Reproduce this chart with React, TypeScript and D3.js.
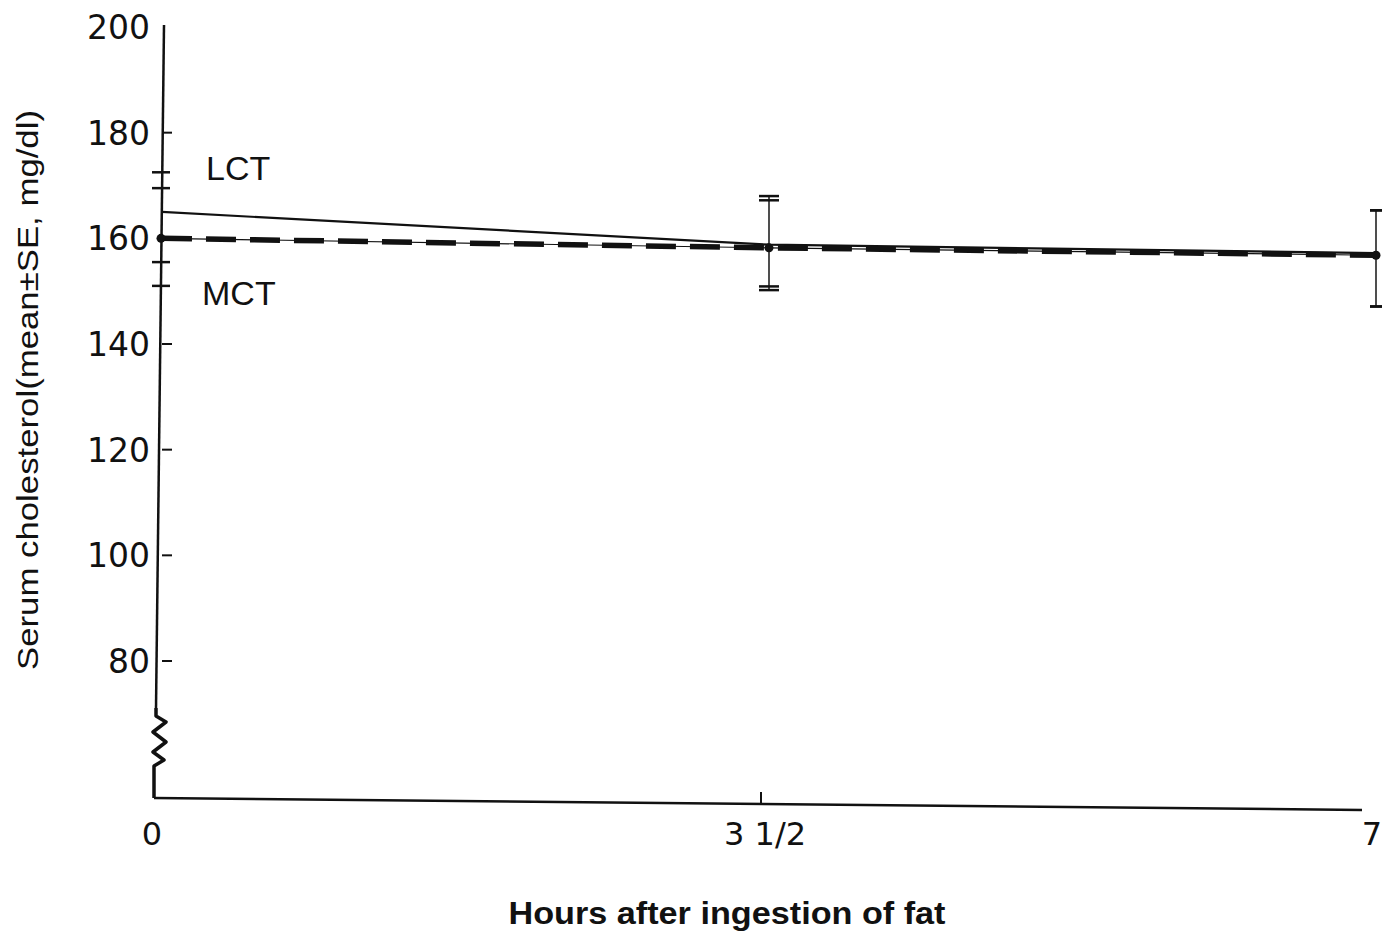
import React from "react"
import { scaleLinear, line } from "d3"

const width = 1386
const height = 935

// hours after ingestion
const hours = [0, 3.5, 7]
const hourLabels = ["0", "3 1/2", "7"]
const yTicks = [80, 100, 120, 140, 160, 180, 200]

// serum cholesterol means
const lct = [165, 158.8, 157.2]
const mct = [160, 158.2, 156.8]

// SE cap values (upper / lower) for each series
const lctHigh = [172.5, 168, 165.3]
const lctLow = [151, 150.2, 147.1]
const mctHigh = [169.5, 167.2, 165.3]
const mctLow = [155.5, 150.9, 147.1]

const font = "'Liberation Sans', Arial, sans-serif"
const numFont = "'DejaVu Sans', sans-serif"

function App() {
  // the printed axis sits a little left of the plotted points (scan skew)
  const xAxis = scaleLinear().domain([0, 7]).range([154, 1368])
  const xScale = scaleLinear().domain([0, 7]).range([162, 1376])
  const yScale = scaleLinear().domain([80, 200]).range([661, 27])

  const axisX = 162
  const axisBottom = 798

  const pathOf = (vals: number[]) =>
    line<number>()
      .x((d, i) => xScale(hours[i]))
      .y(d => yScale(d))(vals) || ""

  const capW = [18, 20, 12]

  // zigzag for broken axis
  const zig = [
    [axisX - 6, 708],
    [axisX - 6, 716],
    [axisX + 4, 722],
    [axisX - 9, 732],
    [axisX + 4, 742],
    [axisX - 9, 752],
    [axisX + 2, 760],
    [axisX - 8, 766],
    [axisX - 8, axisBottom],
  ]

  return (
    <svg width={width} height={height} style={{ position: "absolute", left: 0, top: 0, background: "#fff" }}>
      {/* y axis */}
      <line x1={axisX + 2} y1={25} x2={axisX - 6} y2={708} stroke="#111" strokeWidth={2.5} />
      <polyline
        points={zig.map(p => p.join(",")).join(" ")}
        fill="none"
        stroke="#111"
        strokeWidth={3.5}
        strokeLinejoin="round"
      />
      {yTicks.map(t => (
        <g key={t}>
          {t !== 200 && (
            <line x1={axisX} x2={axisX + 10} y1={yScale(t)} y2={yScale(t)} stroke="#111" strokeWidth={2} />
          )}
          <text x={150} y={yScale(t)} dy="0.36em" textAnchor="end" fontFamily={numFont} fontSize={33} fill="#111">
            {t}
          </text>
        </g>
      ))}

      {/* x axis */}
      <line x1={axisX - 8} y1={axisBottom} x2={1362} y2={axisBottom + 12} stroke="#111" strokeWidth={2.5} />
      <line x1={xAxis(3.5)} x2={xAxis(3.5)} y1={axisBottom - 6} y2={axisBottom + 6} stroke="#111" strokeWidth={2} />
      {hours.map((h, i) => (
        <text
          key={h}
          x={i === 0 ? xAxis(h) - 2 : xAxis(h) + 4}
          y={845}
          textAnchor="middle"
          fontFamily={numFont}
          fontSize={32}
          fill="#111"
        >
          {hourLabels[i]}
        </text>
      ))}

      {/* error bars */}
      {hours.map((h, i) => {
        const x = i === 0 ? axisX - 1 : xScale(h)
        const w = capW[i]
        const caps = [lctHigh[i], mctHigh[i], lctLow[i], mctLow[i]]
        return (
          <g key={"e" + h}>
            {i > 0 && (
              <line
                x1={x}
                x2={x}
                y1={yScale(Math.max(lctHigh[i], mctHigh[i]))}
                y2={yScale(Math.min(lctLow[i], mctLow[i]))}
                stroke="#222"
                strokeWidth={1.6}
              />
            )}
            {caps.map((c, j) => (
              <line key={j} x1={x - w / 2} x2={x + w / 2} y1={yScale(c)} y2={yScale(c)} stroke="#111" strokeWidth={2.5} />
            ))}
          </g>
        )
      })}

      {/* LCT solid line */}
      <path d={pathOf(lct)} fill="none" stroke="#111" strokeWidth={2.2} />
      {/* MCT thin line + dashes */}
      <path d={pathOf(mct)} fill="none" stroke="#111" strokeWidth={1.2} />
      <path d={pathOf(mct)} fill="none" stroke="#111" strokeWidth={5.5} strokeDasharray="30 14" />
      {hours.map((h, i) => (
        <circle key={"p" + h} cx={i === 0 ? axisX - 1 : xScale(h)} cy={yScale(mct[i])} r={4.5} fill="#111" />
      ))}

      {/* series labels */}
      <text x={206} y={180} fontFamily={font} fontSize={34} fill="#111">LCT</text>
      <text x={202} y={305} fontFamily={font} fontSize={34} fill="#111">MCT</text>

      {/* axis titles */}
      <text
        x={727}
        y={924}
        textAnchor="middle"
        fontFamily={font}
        fontSize={31}
        fontWeight="bold"
        fill="#111"
        textLength={437}
        lengthAdjust="spacingAndGlyphs"
      >
        Hours after ingestion of fat
      </text>
      <text
        transform="translate(38, 390) rotate(-90)"
        textAnchor="middle"
        fontFamily={font}
        fontSize={29}
        fill="#111"
        textLength={560}
        lengthAdjust="spacingAndGlyphs"
      >
        Serum cholesterol(mean±SE, mg/dl)
      </text>
    </svg>
  )
}

export default App
